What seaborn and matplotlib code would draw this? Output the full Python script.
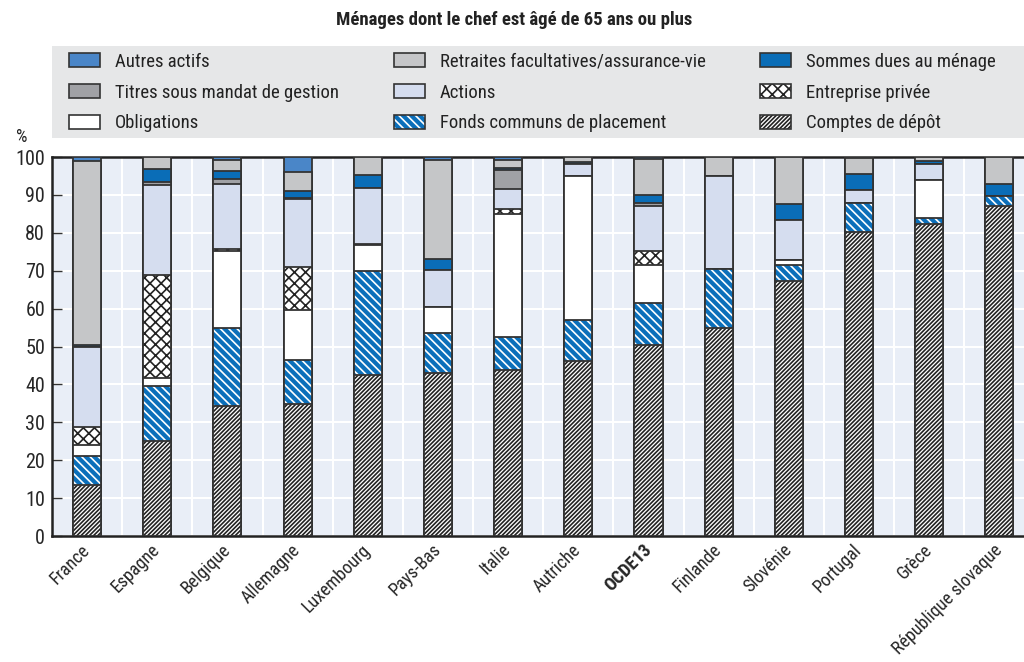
import numpy as np
import matplotlib
matplotlib.use("Agg")
import matplotlib.pyplot as plt
from matplotlib import font_manager
from matplotlib.patches import Patch, Rectangle
from matplotlib.legend_handler import HandlerTuple
import seaborn as sns

countries = ["France", "Espagne", "Belgique", "Allemagne", "Luxembourg", "Pays-Bas",
             "Italie", "Autriche", "OCDE13", "Finlande", "Slovénie", "Portugal",
             "Grèce", "République slovaque"]

comptes_depot = [13.5, 25.1, 34.4, 34.8, 42.5, 42.9, 43.8, 46.3, 50.5, 54.9, 67.4, 80.2, 82.2, 87.2]
fonds_communs = [7.6, 14.5, 20.4, 11.7, 27.5, 10.6, 8.8, 10.8, 10.9, 15.6, 4.2, 7.6, 1.8, 2.5]
obligations = [3.0, 2.2, 20.4, 13.1, 6.7, 6.9, 32.4, 37.8, 10.2, 0.0, 1.1, 0.0, 9.8, 0.0]
entreprise_privee = [4.7, 27.1, 0.6, 11.3, 0.4, 0.0, 1.3, 0.0, 3.6, 0.0, 0.0, 0.0, 0.0, 0.0]
actions = [21.0, 23.6, 17.0, 18.1, 14.8, 9.9, 5.2, 3.2, 12.0, 24.4, 10.6, 3.4, 4.4, 0.0]
titres_mandat = [0.0, 0.9, 1.3, 0.3, 0.0, 0.0, 5.2, 0.0, 0.6, 0.0, 0.0, 0.0, 0.0, 0.0]
sommes_dues = [0.5, 3.5, 2.1, 1.6, 3.4, 2.7, 0.5, 0.6, 2.1, 0.0, 4.4, 4.4, 0.7, 3.3]
retraites = [48.6, 3.1, 2.9, 5.1, 4.7, 26.1, 1.9, 1.3, 9.7, 5.1, 12.3, 4.2, 1.1, 7.0]
autres_actifs = [1.1, 0.0, 0.9, 4.0, 0.0, 0.9, 0.9, 0.0, 0.4, 0.0, 0.0, 0.2, 0.0, 0.0]

title = "Ménages dont le chef est âgé de 65 ans ou plus"
yticks = [0, 10, 20, 30, 40, 50, 60, 70, 80, 90, 100]

# (label, values, facecolor, hatch, hatchcolor) bottom -> top
layers = [
    ("Comptes de dépôt", comptes_depot, "white", "/" * 8, "#222222"),
    ("Fonds communs de placement", fonds_communs, "#0b6fba", "\\" * 4, "white"),
    ("Obligations", obligations, "white", None, "#333333"),
    ("Entreprise privée", entreprise_privee, "white", "xxx", "#222222"),
    ("Actions", actions, "#d5ddef", None, "#333333"),
    ("Titres sous mandat de gestion", titres_mandat, "#a0a1a5", None, "#333333"),
    ("Sommes dues au ménage", sommes_dues, "#0a6db7", None, "#333333"),
    ("Retraites facultatives/assurance-vie", retraites, "#c5c6c8", None, "#333333"),
    ("Autres actifs", autres_actifs, "#4a86c8", None, "#333333"),
]

sns.set_theme(style="white")
avail = {f.name for f in font_manager.fontManager.ttflist}
fam = None
for cand in ["Liberation Sans Narrow", "Roboto Condensed", "Open Sans Condensed", "Roboto", "Liberation Sans"]:
    if cand in avail:
        fam = cand
        break
plt.rcParams['font.family'] = [fam, 'DejaVu Sans'] if fam else ['DejaVu Sans']
plt.rcParams['hatch.linewidth'] = 1.2
plt.rcParams['text.color'] = '#222222'

fig = plt.figure(figsize=(10.24, 6.62), dpi=100)
ax = fig.add_axes([52 / 1024, 1 - 536 / 662, 972 / 1024, 379 / 662])
ax.set_facecolor('#e9eef7')

vals = np.array([l[1] for l in layers])
cum = np.cumsum(vals, axis=0)
outline = "#333333"
for i in reversed(range(len(layers))):
    name, v, face, hatch, hc = layers[i]
    sns.barplot(x=countries, y=cum[i], order=countries, color=face, saturation=1,
                hatch=hatch, edgecolor=hc, linewidth=0, width=0.4, errorbar=None,
                ax=ax, zorder=3)
    sns.barplot(x=countries, y=cum[i], order=countries, color=outline, fill=False,
                linewidth=1.3, width=0.4, errorbar=None, ax=ax, zorder=3)

ax.set_xlim(-0.5, 13.35)
ax.set_ylim(0, 100)
ax.set_yticks(yticks)
ax.set_yticklabels([str(t) for t in yticks], fontsize=14.5)
ax.set_xticks(range(len(countries)))
ax.set_xticklabels(countries, rotation=45, ha='right', va='center',
                   rotation_mode='anchor', fontsize=13)
ax.get_xticklabels()[countries.index("OCDE13")].set_fontweight('bold')
ax.set_xticks(np.arange(0.5, len(countries) - 0.5, 1), minor=True)
ax.tick_params(axis='x', which='major', length=0, pad=8)
ax.tick_params(axis='x', which='minor', direction='in', length=5, color='#555555', width=1)
ax.tick_params(axis='y', direction='in', length=7, color='#333333', width=1, pad=5, left=True)
ax.set_axisbelow(True)
ax.grid(True, axis='y', which='major', color='white', linewidth=1.5)
ax.grid(True, axis='x', which='minor', color='white', linewidth=1.5)
ax.grid(False, axis='x', which='major')
for s in ['left', 'bottom', 'top']:
    ax.spines[s].set_visible(True)
    ax.spines[s].set_color('#222222')
    ax.spines[s].set_linewidth(1.8)
ax.spines['right'].set_visible(False)
ax.set_xlabel("")
ax.set_ylabel("")

fig.text(514 / 1024, 1 - 20 / 662, title, ha='center', va='center',
         fontsize=13.5, fontweight='bold')
fig.text(22 / 1024, 1 - 137 / 662, "%", ha='center', va='center', fontsize=13)

fig.patches.append(Rectangle((52 / 1024, 1 - 138 / 662), 972 / 1024, 92 / 662,
                             transform=fig.transFigure, facecolor='#e6e7e8',
                             edgecolor='none', zorder=0))

def handle(idx):
    name, v, face, hatch, hc = layers[idx]
    if hatch:
        return (Patch(facecolor=face, hatch=hatch, edgecolor=hc, linewidth=0),
                Patch(facecolor='none', edgecolor=outline, linewidth=1.2))
    return Patch(facecolor=face, edgecolor=outline, linewidth=1.2)

columns = [[8, 5, 2], [7, 4, 1], [6, 3, 0]]
col_x = [69, 394, 760]
for cols, x in zip(columns, col_x):
    hs = [handle(idx) for idx in cols]
    labels = [layers[idx][0] for idx in cols]
    fig.legend(handles=hs, labels=labels, loc='center left',
               bbox_to_anchor=(x / 1024, 1 - 92.5 / 662),
               handler_map={tuple: HandlerTuple(ndivide=1)},
               frameon=False, fontsize=13.5, handlelength=1.65, handleheight=0.8,
               handletextpad=0.8, labelspacing=0.68, borderpad=0, borderaxespad=0)

fig.savefig("out.png", dpi=100)
